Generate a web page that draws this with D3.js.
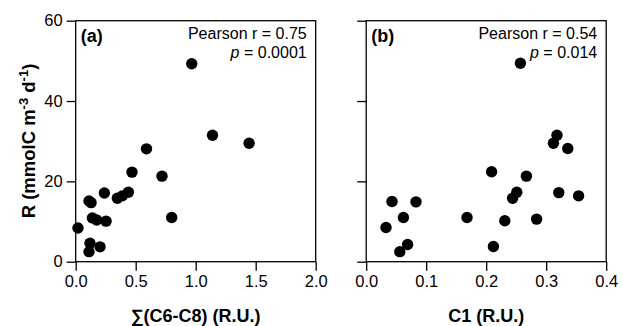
<!DOCTYPE html>
<html><head><meta charset="utf-8">
<script src="https://cdn.jsdelivr.net/npm/d3@7"></script>
<style>
html,body{margin:0;padding:0;background:#fff;}
text{font-family:"Liberation Sans",Arial,sans-serif;fill:#000;}
</style></head>
<body>
<svg id="chart" width="622" height="326"></svg>
<script>
// Panel (a): sum(C6-C8) vs R
const sumC6C8 = [0.967,1.14,1.445,0.59,0.469,0.719,0.239,0.347,0.389,0.439,0.111,0.128,0.80,0.139,0.175,0.253,0.019,0.119,0.203,0.111];
const respA   = [49.3,31.5,29.5,28.1,22.3,21.3,17.1,15.8,16.4,17.3,15.1,14.7,11.0,10.9,10.4,10.1,8.4,4.6,3.7,2.5];
// Panel (b): C1 vs R
const c1      = [0.257,0.318,0.312,0.336,0.209,0.267,0.251,0.244,0.321,0.354,0.043,0.083,0.062,0.168,0.231,0.284,0.033,0.069,0.056,0.212];
const respB   = [49.4,31.5,29.5,28.2,22.4,21.3,17.3,15.8,17.2,16.4,15.0,14.9,11.0,11.0,10.2,10.6,8.5,4.3,2.5,3.8];

const yTicks = [0,20,40,60];
const xTicksA = [0,0.5,1.0,1.5,2.0];
const xTicksB = [0,0.1,0.2,0.3,0.4];
const panelLabels = ["(a)","(b)"];
const pearsonR = ["0.75","0.54"];
const pValues = ["0.0001","0.014"];
const xTitles = ["\u2211(C6-C8) (R.U.)","C1 (R.U.)"];

const svg = d3.select("#chart");
const plotTop = 20.7, plotBottom = 261.7, W = 240;
const panels = [
  {x0:75.7, xs:sumC6C8, ys:respA, dom:[0,2], ticks:xTicksA, fmt:d3.format(".1f"), showY:true},
  {x0:366.2, xs:c1, ys:respB, dom:[0,0.4], ticks:xTicksB, fmt:d3.format(".1f"), showY:false}
];
const y = d3.scaleLinear().domain([0,60]).range([plotBottom, plotTop]);

panels.forEach((p,i)=>{
  const x = d3.scaleLinear().domain(p.dom).range([p.x0, p.x0+W]);
  const g = svg.append("g");
  g.append("rect").attr("x",p.x0).attr("y",plotTop).attr("width",W).attr("height",plotBottom-plotTop)
    .attr("fill","none").attr("stroke","#000").attr("stroke-width",1.3);
  const xa = g.append("g").attr("transform",`translate(0,${plotBottom})`)
    .call(d3.axisBottom(x).tickValues(p.ticks).tickFormat(p.fmt).tickSize(9).tickPadding(5));
  const ya = g.append("g").attr("transform",`translate(${p.x0},0)`)
    .call(d3.axisLeft(y).tickValues(yTicks).tickSize(9).tickPadding(4)
      .tickFormat(p.showY ? d3.format("d") : ""));
  [xa,ya].forEach(a=>{
    a.select(".domain").remove();
    a.selectAll("line").attr("stroke","#000").attr("stroke-width",1.3);
    a.selectAll("text").attr("font-size",16.5).attr("font-family","Liberation Sans, Arial, sans-serif").attr("fill","#000");
  });
  g.selectAll("circle.pt").data(p.xs.map((v,j)=>[v,p.ys[j]])).enter().append("circle")
    .attr("class","pt").attr("cx",d=>x(d[0])).attr("cy",d=>y(d[1])).attr("r",5.7).attr("fill","#000");
  g.append("text").attr("x",p.x0+5).attr("y",plotTop+21).attr("font-size",18).attr("font-weight","bold").text(panelLabels[i]);
  g.append("text").attr("x",p.x0+W-9).attr("y",plotTop+18).attr("text-anchor","end").attr("font-size",16)
    .text("Pearson r = "+pearsonR[i]);
  const t = g.append("text").attr("x",p.x0+W-9).attr("y",plotTop+37).attr("text-anchor","end").attr("font-size",16);
  t.append("tspan").attr("font-style","italic").text("p");
  t.append("tspan").text(" = "+pValues[i]);
  g.append("text").attr("x",p.x0+W/2).attr("y",322).attr("text-anchor","middle")
    .attr("font-size",18).attr("font-weight","bold").text(xTitles[i]);
});

const yt = svg.append("text").attr("transform","translate(35,141) rotate(-90)")
  .attr("text-anchor","middle").attr("font-size",18.5).attr("font-weight","bold");
yt.append("tspan").text("R (mmolC m");
yt.append("tspan").attr("dy",-7).attr("font-size",13).text("-3");
yt.append("tspan").attr("dy",7).text(" d");
yt.append("tspan").attr("dy",-7).attr("font-size",13).text("-1");
yt.append("tspan").attr("dy",7).text(")");
</script>
</body></html>
